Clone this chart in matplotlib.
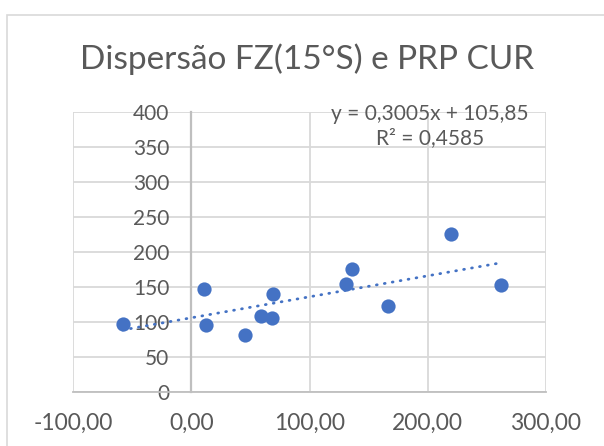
import matplotlib.pyplot as plt
from matplotlib.patches import Rectangle
from matplotlib.ticker import FuncFormatter
import numpy as np

plt.rcParams['font.family'] = ['Lato', 'DejaVu Sans']

# data
fz = [-58.3, 10.4, 12.7, 45.3, 58.6, 68.5, 69.3, 130.7, 136.1, 166.5, 219.2, 261.5]
prp = [96.3, 147.7, 95.3, 81.0, 108.1, 105.7, 140.5, 154.8, 175.3, 123.4, 226.3, 152.4]
title = 'Dispersão FZ(15°S) e PRP CUR'
eq_text = 'y = 0,3005x + 105,85\nR² = 0,4585'

blue = '#4472C4'
txt = '#595959'
grid = '#d9d9d9'
axc = '#bfbfbf'

fig = plt.figure(figsize=(6.04, 4.46), dpi=100)
ax = fig.add_axes([73.3 / 604, 1 - 391.7 / 446, (546 - 73.3) / 604, (391.7 - 112.3) / 446])

# chart area border (cut off at right/bottom)
fig.add_artist(Rectangle((7 / 604, -0.1), 1.2, 1 - 15 / 446 + 0.1, transform=fig.transFigure,
                         fill=False, edgecolor=grid, linewidth=1.2))

ax.scatter(fz, prp, s=105, color=blue, zorder=3, linewidths=0)

# linear trendline
m, b = np.polyfit(fz, prp, 1)
xs = np.array([min(fz), max(fz)])
ax.plot(xs, m * xs + b, color=blue, linewidth=2.0, linestyle=(0, (0.3, 2.6)),
        dash_capstyle='round', zorder=4)

ax.set_xlim(-100, 300)
ax.set_ylim(0, 400)
ax.set_xticks([-100, 0, 100, 200, 300])
ax.set_yticks(range(0, 401, 50))
ax.xaxis.set_major_formatter(FuncFormatter(lambda v, p: f'{v:.2f}'.replace('.', ',')))
ax.yaxis.set_major_formatter(FuncFormatter(lambda v, p: f'{v:.0f}'))

ax.grid(True, color=grid, linewidth=1.3, zorder=0)
ax.set_axisbelow(True)
for s in ['top', 'right']:
    ax.spines[s].set_visible(False)
ax.spines['left'].set_position(('data', 0))
ax.spines['left'].set_color(axc)
ax.spines['left'].set_linewidth(1.6)
ax.spines['bottom'].set_color(axc)
ax.spines['bottom'].set_linewidth(1.3)
ax.tick_params(axis='y', length=0, pad=16, labelsize=15, labelcolor=txt)
ax.tick_params(axis='x', length=0, pad=15, labelsize=16.5, labelcolor=txt)
for lab in ax.get_yticklabels():
    lab.set_zorder(5)

fig.text(0.509, 1 - 59 / 446, title, ha='center', va='center', fontsize=24, color=txt)
ax.text(202, 380, eq_text, ha='center', va='center', fontsize=15, color=txt,
        linespacing=1.25, zorder=6)

fig.savefig('out.png', dpi=100)
